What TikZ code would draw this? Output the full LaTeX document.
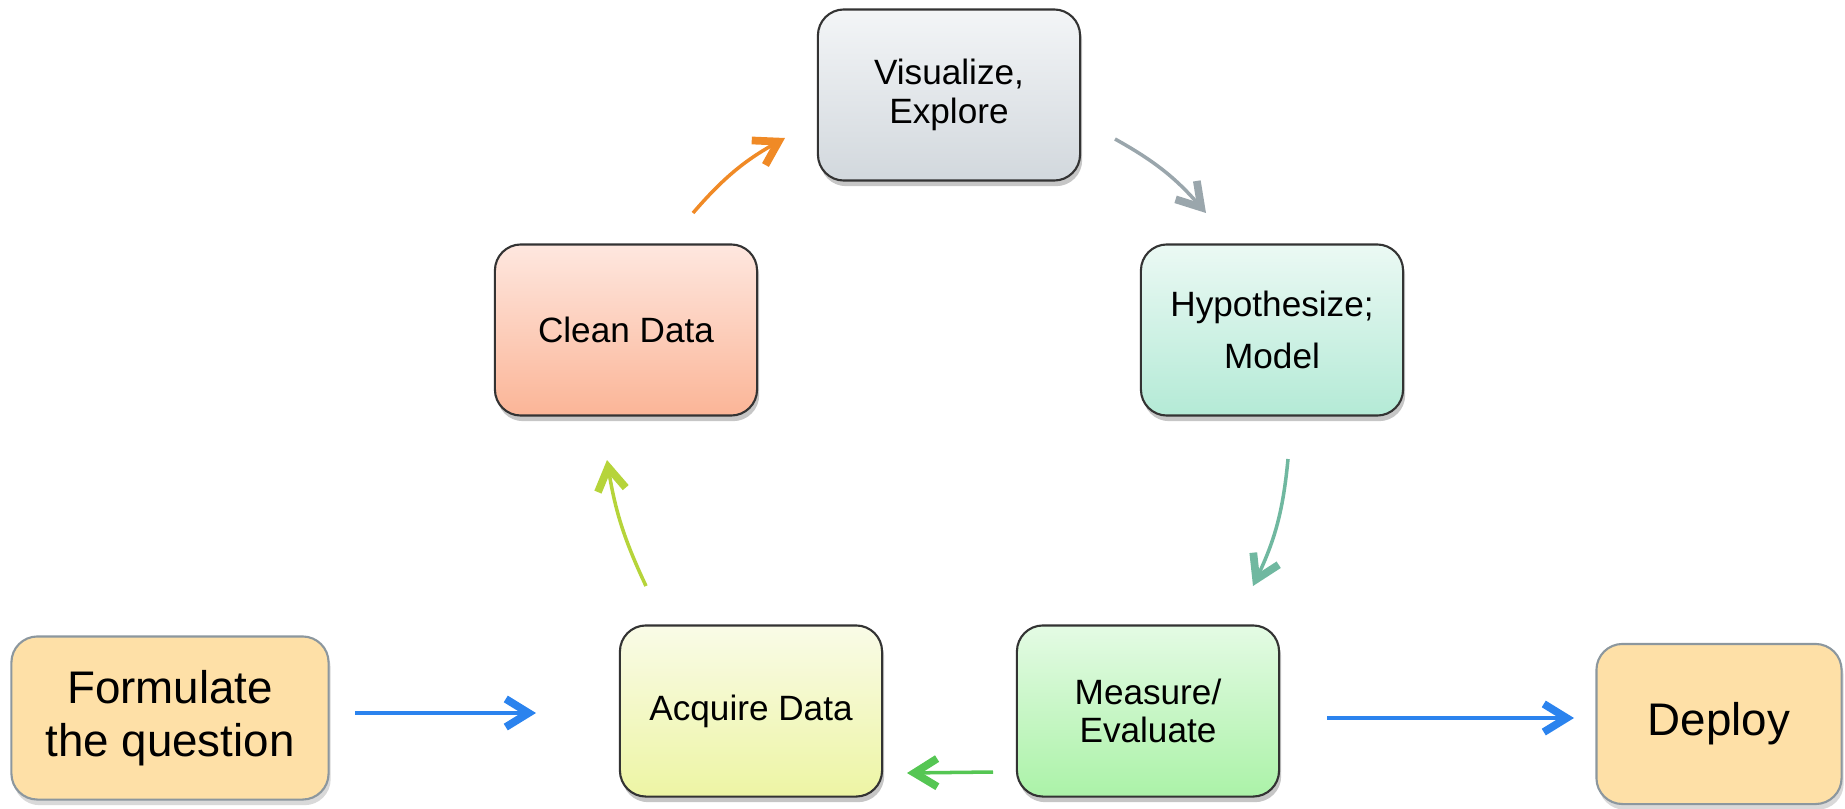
\documentclass[tikz,border=0pt]{standalone}
\usepackage{fontspec}
\setmainfont{Liberation Sans}
\usetikzlibrary{arrows.meta,shadows}

\definecolor{visTop}{HTML}{F3F5F7}
\definecolor{visBot}{HTML}{D2D8DD}
\definecolor{clnTop}{HTML}{FEE7DF}
\definecolor{clnBot}{HTML}{FBB597}
\definecolor{hypTop}{HTML}{EBF9F4}
\definecolor{hypBot}{HTML}{B4EAD6}
\definecolor{acqTop}{HTML}{F9FBE7}
\definecolor{acqBot}{HTML}{EDF5A4}
\definecolor{meaTop}{HTML}{E4FBE4}
\definecolor{meaBot}{HTML}{ABF2A8}
\definecolor{endFill}{HTML}{FEE0A7}
\definecolor{endLine}{HTML}{8C979E}
\definecolor{arBlue}{HTML}{2B83EE}
\definecolor{arOrange}{HTML}{F08A26}
\definecolor{arGray}{HTML}{9AA6AC}
\definecolor{arTeal}{HTML}{70B8A0}
\definecolor{arGreen}{HTML}{55C653}
\definecolor{arLime}{HTML}{B6D43A}

\tikzset{
  stage/.style={draw=black!80, line width=0.6pt, rounded corners=0.26cm,
    minimum width=2.62cm, minimum height=1.71cm, align=center,
    font=\fontsize{10}{11}\selectfont,
    drop shadow={shadow xshift=0.6pt, shadow yshift=-1.6pt, opacity=0.45}},
  endbox/.style={draw=endLine, line width=0.6pt, fill=endFill, rounded corners=0.26cm,
    align=center, font=\fontsize{13}{15}\selectfont,
    drop shadow={shadow xshift=0.6pt, shadow yshift=-1.6pt, opacity=0.3}},
  flow/.style={line width=1pt,
    -{Straight Barb[length=6.5pt,width=8pt,line width=2.2pt]}}
}

\begin{document}
\begin{tikzpicture}[x=0.01cm,y=-0.01cm]
\useasboundingbox (0,0) rectangle (1845,809);

% cycle stages
\node[stage, top color=visTop, bottom color=visBot] (vis) at (949,95) {Visualize,\\Explore};
\node[stage, top color=clnTop, bottom color=clnBot] (cln) at (626,330) {Clean Data};
\node[stage, top color=hypTop, bottom color=hypBot,
      font=\fontsize{10}{15}\selectfont] (hyp) at (1272,330) {Hypothesize;\\Model};
\node[stage, top color=acqTop, bottom color=acqBot] (acq) at (751,711) {Acquire Data};
\node[stage, top color=meaTop, bottom color=meaBot] (mea) at (1148,711) {Measure/\\Evaluate};

% entry and exit
\node[endbox, minimum width=3.17cm, minimum height=1.63cm] (frm) at (170,718) {Formulate\\the question};
\node[endbox, minimum width=2.45cm, minimum height=1.60cm] (dep) at (1719,724) {Deploy};

% arrow end points, kept clear of the boxes
\coordinate (f1) at (355,713);  \coordinate (f2) at (536,713);
\coordinate (d1) at (1327,718); \coordinate (d2) at (1574,718);
\coordinate (o1) at (693,213);  \coordinate (o2) at (785,138);
\coordinate (g1) at (1115,139); \coordinate (g2) at (1206,213);
\coordinate (t1) at (1288,459); \coordinate (t2) at (1253,586);
\coordinate (m1) at (993,772);  \coordinate (m2) at (907,773);
\coordinate (l1) at (646,586);  \coordinate (l2) at (607,460);

\draw[flow, arBlue]   (f1) -- (f2);
\draw[flow, arBlue]   (d1) -- (d2);
\draw[flow, arOrange] (o1) to[bend left=10] (o2);
\draw[flow, arGray]   (g1) to[bend left=10] (g2);
\draw[flow, arTeal]   (t1) to[bend left=10] (t2);
\draw[flow, arGreen]  (m1) -- (m2);
\draw[flow, arLime]   (l1) to[bend left=8] (l2);
\end{tikzpicture}
\end{document}
